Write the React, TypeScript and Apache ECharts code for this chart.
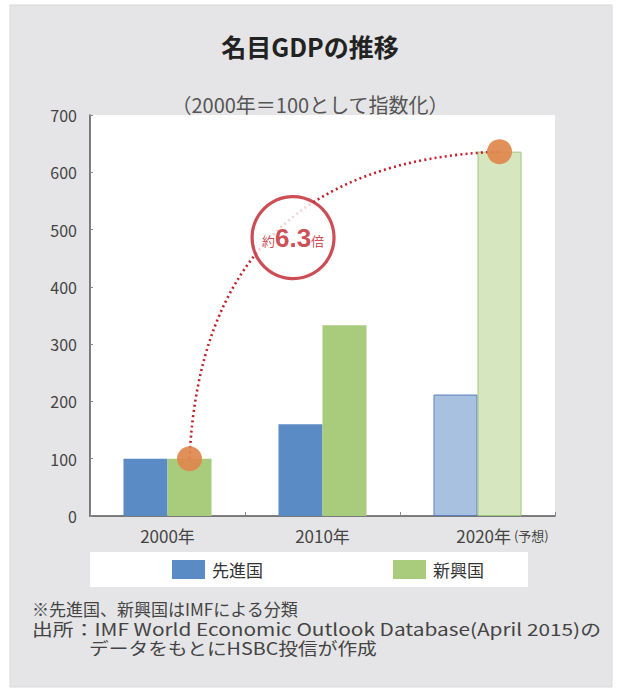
import React, { useEffect, useRef } from 'react';
import * as echarts from 'echarts';

const categories = ['2000年', '2010年', '2020年'];
const forecastNote = '(予想)';
const seriesNames = ['先進国', '新興国'];
const advancedValues = [100, 160, 212];
const emergingValues = [100, 333, 636];
const forecastIndex = 2;
const yMin = 0;
const yMax = 700;
const yInterval = 100;
const titleText = '名目GDPの推移';
const subtitleText = '（2000年＝100として指数化）';
const growthText = ['約', '6.3', '倍'];
const growthPoint = [1.31, 486];
const noteLines = [
  '※先進国、新興国はIMFによる分類',
  '出所：IMF World Economic Outlook Database(April 2015)の',
  'データをもとにHSBC投信が作成',
];

const BLUE = '#5b8bc5';
const GREEN = '#a9cb7c';
const BLUE_LIGHT = '#a9c1e0';
const GREEN_LIGHT = '#d6e6bf';
const RED = '#c0202a';
const ORANGE = '#e0874c';
const FONT = '"Noto Sans CJK JP", "Noto Sans", sans-serif';

// relative offset of the 新興国 bar centre from the category centre (in category units)
const barFrac = 0.284;
const greenOffset = barFrac / 2;

export default function App() {
  const ref = useRef<HTMLDivElement>(null);
  useEffect(() => {
    if (!ref.current) return;
    const chart = echarts.init(ref.current, null, { renderer: 'svg' });

    const emergingPts = [0, forecastIndex].map((i) => [i + 0.5 + greenOffset, emergingValues[i]]);

    const noteLayout = [
      { x: 32, y: 608, sx: 1.0 },
      { x: 32, y: 628, sx: 1.225 },
      { x: 89, y: 648, sx: 1.16 },
    ];

    const option: any = {
      animation: false,
      backgroundColor: '#ffffff',
      textStyle: { fontFamily: FONT },
      title: [
        {
          text: titleText,
          left: 'center',
          top: 28,
          textStyle: { fontSize: 25, fontWeight: 'bold', color: '#222', fontFamily: FONT },
        },
        {
          text: subtitleText,
          left: 'center',
          top: 89,
          textStyle: { fontSize: 20, fontWeight: 'normal', color: '#555', fontFamily: FONT },
        },
      ],
      graphic: [
        {
          type: 'rect',
          z: -10,
          silent: true,
          shape: { x: 10, y: 5, width: 602, height: 682 },
          style: { fill: '#e5e5e7', stroke: '#d9d9db', lineWidth: 1 },
        },
        ...noteLines.map((t, i) => ({
          type: 'text',
          x: noteLayout[i].x,
          y: noteLayout[i].y,
          scaleX: noteLayout[i].sx,
          z: 10,
          silent: true,
          style: {
            text: t,
            fontSize: 17,
            fill: '#444',
            fontFamily: FONT,
            verticalAlign: 'middle',
            align: 'left',
          },
        })),
      ],
      legend: {
        data: seriesNames,
        left: 90,
        top: 552,
        padding: [8, 44, 8, 82],
        backgroundColor: '#ffffff',
        itemWidth: 33,
        itemHeight: 19,
        itemGap: 130,
        icon: 'rect',
        textStyle: { fontSize: 17, color: '#333', fontFamily: FONT, padding: [0, 0, 0, 2] },
      },
      grid: {
        left: 90,
        right: 65,
        top: 115,
        bottom: 179,
        show: true,
        backgroundColor: '#ffffff',
        borderWidth: 0,
      },
      xAxis: [
        {
          type: 'category',
          data: categories,
          axisLine: { lineStyle: { color: '#555', width: 1.5 } },
          axisTick: { show: true, inside: true, length: 4, lineStyle: { color: '#888' } },
          axisLabel: {
            interval: 0,
            hideOverlap: false,
            color: '#444',
            fontSize: 17,
            margin: 11,
            fontFamily: FONT,
            formatter: (v: string, i: number) =>
              i === forecastIndex ? `{sp|}${v}{note| ${forecastNote}}` : v,
            rich: {
              sp: { width: 50 },
              note: { fontSize: 13, color: '#444', fontFamily: FONT },
            },
          },
        },
        { type: 'value', min: 0, max: categories.length, show: false },
      ],
      yAxis: {
        type: 'value',
        min: yMin,
        max: yMax,
        interval: yInterval,
        splitLine: { show: false },
        axisLine: { show: true, lineStyle: { color: '#555', width: 1.5 } },
        axisTick: { show: true, inside: true, length: 3, lineStyle: { color: '#888' } },
        axisLabel: { color: '#444', fontSize: 16, margin: 13, fontFamily: FONT },
      },
      series: [
        {
          name: seriesNames[0],
          type: 'bar',
          barWidth: `${barFrac * 100}%`,
          barGap: '0%',
          z: 2,
          itemStyle: { color: BLUE },
          data: advancedValues.map((v, i) =>
            i === forecastIndex
              ? { value: v, itemStyle: { color: BLUE_LIGHT, borderColor: '#5a80b8', borderWidth: 1 } }
              : v
          ),
        },
        {
          name: seriesNames[1],
          type: 'bar',
          barWidth: `${barFrac * 100}%`,
          barGap: '0%',
          z: 2,
          itemStyle: { color: GREEN },
          data: emergingValues.map((v, i) =>
            i === forecastIndex
              ? { value: v, itemStyle: { color: GREEN_LIGHT, borderColor: '#a3c47c', borderWidth: 1 } }
              : v
          ),
        },
        {
          type: 'lines',
          coordinateSystem: 'cartesian2d',
          xAxisIndex: 1,
          yAxisIndex: 0,
          z: 3,
          silent: true,
          lineStyle: { color: RED, width: 2.6, type: [2, 3.2], curveness: 0.46, opacity: 1 },
          data: [{ coords: emergingPts }],
        },
        {
          type: 'scatter',
          xAxisIndex: 1,
          yAxisIndex: 0,
          z: 4,
          silent: true,
          symbol: 'circle',
          symbolSize: 25,
          itemStyle: { color: ORANGE, opacity: 0.92 },
          data: emergingPts,
        },
        {
          type: 'scatter',
          xAxisIndex: 1,
          yAxisIndex: 0,
          z: 5,
          silent: true,
          symbol: 'circle',
          symbolSize: 82,
          itemStyle: { color: '#ffffff', borderColor: RED, borderWidth: 3.2 },
          label: {
            show: true,
            position: 'inside',
            formatter: () => `{a|${growthText[0]}}{b|${growthText[1]}}{a|${growthText[2]}}`,
            rich: {
              a: { fontSize: 13, color: RED, fontFamily: FONT, padding: [6, 0, 0, 0] },
              b: { fontSize: 26, fontWeight: 'bold', color: RED, fontFamily: '"Liberation Sans", Arial, sans-serif' },
            },
          },
          data: [growthPoint],
        },
      ],
    };
    chart.setOption(option);
    return () => chart.dispose();
  }, []);
  return (
    <div
      ref={ref}
      style={{ position: 'fixed', left: 0, top: 0, width: 620, height: 695 }}
    />
  );
}
